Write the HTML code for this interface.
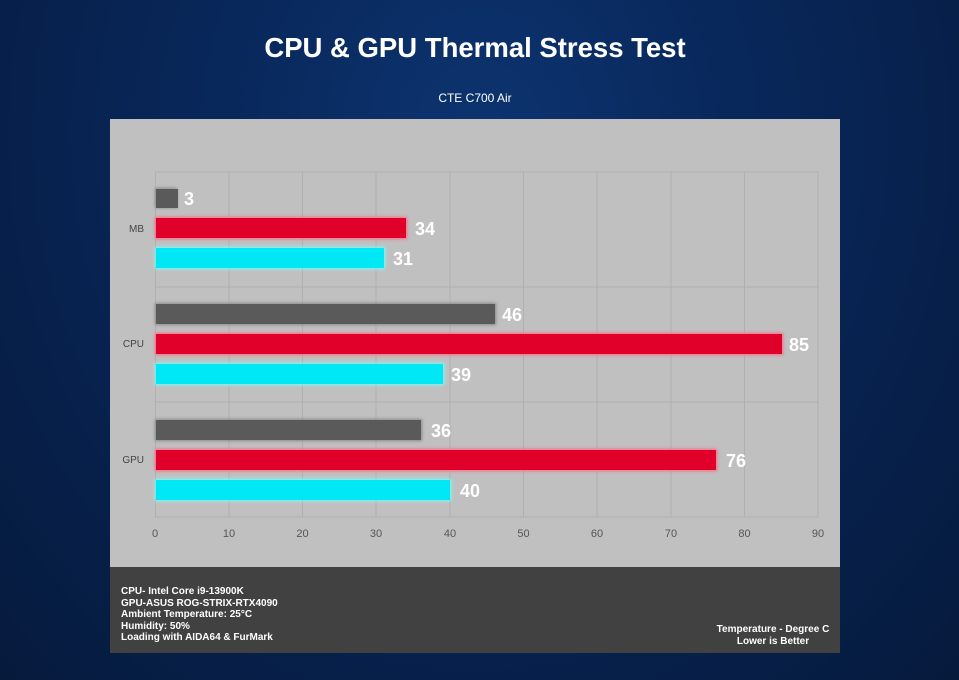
<!DOCTYPE html>
<html><head><style>
body{margin:0;width:959px;height:680px;overflow:hidden;background:radial-gradient(ellipse at 50% 20%,#0d3470 0%,#08275a 40%,#061a3c 100%);font-family:"Liberation Sans",sans-serif;}
</style></head><body>
<svg width="959" height="680" xmlns="http://www.w3.org/2000/svg" style="position:absolute;left:0;top:0">
<defs>
<filter id="g" x="-10%" y="-50%" width="120%" height="200%"><feGaussianBlur stdDeviation="1.5"/></filter>
</defs>
<text x="475" y="57" text-anchor="middle" fill="#fff" font-size="27.5" font-weight="bold">CPU &amp; GPU Thermal Stress Test</text>
<text x="475" y="102" text-anchor="middle" fill="#fff" font-size="12">CTE C700 Air</text>
<rect x="110" y="119" width="730" height="448" fill="#c0c0c0"/>
<rect x="110" y="567" width="730" height="86" fill="#414141"/>
<g stroke="#b0b0b0" stroke-width="1">
<line x1="155" y1="172" x2="818" y2="172"/>
<line x1="155" y1="287" x2="818" y2="287"/>
<line x1="155" y1="402" x2="818" y2="402"/>
<line x1="155" y1="517" x2="818" y2="517"/>
<line x1="155.5" y1="172" x2="155.5" y2="517"/><line x1="229" y1="172" x2="229" y2="517"/><line x1="302.5" y1="172" x2="302.5" y2="517"/><line x1="376" y1="172" x2="376" y2="517"/><line x1="450" y1="172" x2="450" y2="517"/><line x1="523.5" y1="172" x2="523.5" y2="517"/><line x1="597" y1="172" x2="597" y2="517"/><line x1="671" y1="172" x2="671" y2="517"/><line x1="744.5" y1="172" x2="744.5" y2="517"/><line x1="818" y1="172" x2="818" y2="517"/>
</g>
<g font-size="11" fill="#555" text-anchor="middle">
<text x="155" y="537">0</text><text x="229" y="537">10</text><text x="302.5" y="537">20</text><text x="376" y="537">30</text><text x="450" y="537">40</text><text x="523.5" y="537">50</text><text x="597" y="537">60</text><text x="671" y="537">70</text><text x="744.5" y="537">80</text><text x="818" y="537">90</text>
</g>
<g font-size="10" fill="#444" text-anchor="end">
<text x="144" y="232">MB</text><text x="144" y="347">CPU</text><text x="144" y="463">GPU</text>
</g>
<g>
<rect x="155" y="188" width="22" height="20" fill="#888" filter="url(#g)"/><rect x="156" y="189" width="22" height="19" fill="#5a5a5a"/>
<rect x="155" y="217" width="252" height="22" fill="#ff6680" filter="url(#g)"/><rect x="156" y="218" width="250" height="20" fill="#e0002a"/>
<rect x="155" y="247" width="230" height="22" fill="#7ff" filter="url(#g)"/><rect x="156" y="248" width="228" height="20" fill="#00e8f6"/>
<rect x="155" y="303" width="341" height="22" fill="#888" filter="url(#g)"/><rect x="156" y="304" width="339" height="20" fill="#5a5a5a"/>
<rect x="155" y="333" width="628" height="22" fill="#ff6680" filter="url(#g)"/><rect x="156" y="334" width="626" height="20" fill="#e0002a"/>
<rect x="155" y="363" width="289" height="22" fill="#7ff" filter="url(#g)"/><rect x="156" y="364" width="287" height="20" fill="#00e8f6"/>
<rect x="155" y="419" width="267" height="22" fill="#888" filter="url(#g)"/><rect x="156" y="420" width="265" height="20" fill="#5a5a5a"/>
<rect x="155" y="449" width="562" height="22" fill="#ff6680" filter="url(#g)"/><rect x="156" y="450" width="560" height="20" fill="#e0002a"/>
<rect x="155" y="479" width="296" height="22" fill="#7ff" filter="url(#g)"/><rect x="156" y="480" width="294" height="20" fill="#00e8f6"/>
</g>
<g font-size="18" font-weight="bold" fill="#fff">
<text x="184" y="205">3</text><text x="415" y="235">34</text><text x="393" y="265">31</text>
<text x="502" y="321">46</text><text x="789" y="351">85</text><text x="451" y="381">39</text>
<text x="431" y="437">36</text><text x="726" y="467">76</text><text x="460" y="497">40</text>
</g>
<g font-size="10" font-weight="bold" fill="#fff">
<text x="121" y="594">CPU- Intel Core i9-13900K</text>
<text x="121" y="606">GPU-ASUS ROG-STRIX-RTX4090</text>
<text x="121" y="617">Ambient Temperature: 25°C</text>
<text x="121" y="629">Humidity: 50%</text>
<text x="121" y="640">Loading with AIDA64  &amp; FurMark</text>
<text x="773" y="632" text-anchor="middle">Temperature - Degree C</text>
<text x="773" y="644" text-anchor="middle">Lower is Better</text>
</g>
</svg>
</body></html>
